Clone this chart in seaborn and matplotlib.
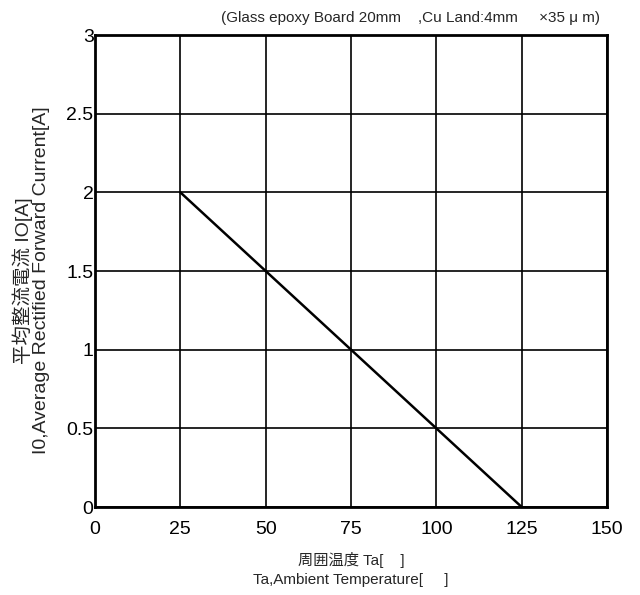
import matplotlib
matplotlib.use("Agg")
import matplotlib.pyplot as plt
import seaborn as sns
import pandas as pd

temps = [25, 50, 75, 100, 125]
currents = [2.0, 1.5, 1.0, 0.5, 0.0]
x_ticks = [0, 25, 50, 75, 100, 125, 150]
y_ticks = [0, 0.5, 1, 1.5, 2, 2.5, 3]
y_tick_labels = ["0", "0.5", "1", "1.5", "2", "2.5", "3"]
note = "(Glass epoxy Board 20mm    ,Cu Land:4mm     \u00d735 \u03bc m)"
xlabel = "周囲温度 Ta[    ]\nTa,Ambient Temperature[     ]"
ylabel = "平均整流電流 IO[A]\nI0,Average Rectified Forward Current[A]"

sns.set_theme(style="white")
plt.rcParams['font.family'] = ['Liberation Sans', 'Noto Sans CJK JP', 'DejaVu Sans']

df = pd.DataFrame({"Ta": temps, "Io": currents})

fig = plt.figure(figsize=(6.4, 5.95), dpi=100)
ax = fig.add_axes([95/640, 1-507/595, (607-95)/640, (507-35)/595])
sns.lineplot(data=df, x="Ta", y="Io", ax=ax, color="black", lw=1.8)

ax.set_xlim(0, 150)
ax.set_ylim(0, 3)
ax.set_xticks(x_ticks)
ax.set_xticklabels([str(v) for v in x_ticks], fontsize=14)
ax.set_yticks(y_ticks)
ax.set_yticklabels(y_tick_labels, fontsize=14)
ax.tick_params(axis="x", length=0, pad=10, colors="black")
ax.tick_params(axis="y", length=0, pad=1, colors="black")
ax.grid(True, color="black", lw=1.2)
for s in ax.spines.values():
    s.set_color("black")
    s.set_linewidth(2)
ax.set_xlabel(xlabel, fontsize=11, linespacing=1.45, labelpad=10)
ax.set_ylabel(ylabel, fontsize=14, linespacing=1.0)
ax.yaxis.set_label_coords(-0.088, 0.48)
fig.text(600/640, 1-18/595, note, ha="right", va="center", fontsize=11)

fig.savefig("out.png", dpi=100, facecolor="white")
